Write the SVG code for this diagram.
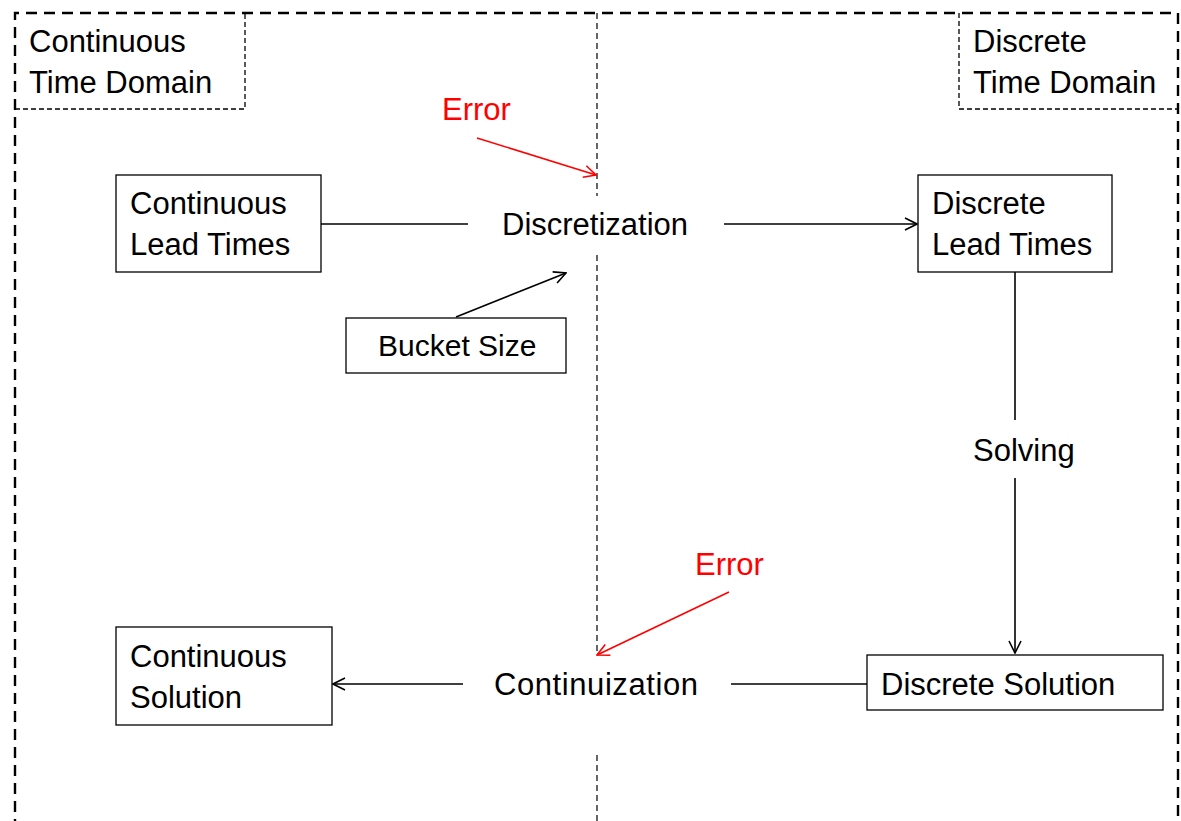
<svg xmlns="http://www.w3.org/2000/svg" width="1181" height="821" viewBox="0 0 1181 821">
<style>
text{font-family:"Liberation Sans",Arial,sans-serif;font-size:31px;fill:#000}
.red{fill:#ff0000}
.box{fill:#fff;stroke:#000;stroke-width:1.3}
.lbl{fill:none;stroke:#000;stroke-width:1.3;stroke-dasharray:5 3}
.outer{fill:none;stroke:#000;stroke-width:2.4;stroke-dasharray:11 7}
.mid{fill:none;stroke:#000;stroke-width:1.2;stroke-dasharray:6 4}
.ln{fill:none;stroke:#000;stroke-width:1.6}
.rln{fill:none;stroke:#ff0000;stroke-width:1.6}
</style>
<defs>
<marker id="ah" viewBox="0 0 14 14" refX="13" refY="7" markerWidth="14" markerHeight="14" markerUnits="userSpaceOnUse" orient="auto">
<path d="M1,1 L13,7 L1,13" fill="none" stroke="#000" stroke-width="1.6"/>
</marker>
<marker id="ahr" viewBox="0 0 14 14" refX="13" refY="7" markerWidth="14" markerHeight="14" markerUnits="userSpaceOnUse" orient="auto">
<path d="M1,1 L13,7 L1,13" fill="none" stroke="#ff0000" stroke-width="1.6"/>
</marker>
</defs>
<rect width="1181" height="821" fill="#fff"/>
<g id="domains">
<path class="outer" d="M15,830 L15,13 L1178,13 L1178,830"/>
<path class="mid" d="M597,13 L597,196"/>
<path class="mid" d="M597,255 L597,653"/>
<path class="mid" d="M597,755 L597,821"/>
</g>
<g id="continuous-domain-label">
<path class="lbl" d="M15,109 L245,109 L245,13"/>
<text x="29" y="52">Continuous</text>
<text x="29" y="93">Time Domain</text>
</g>
<g id="discrete-domain-label">
<path class="lbl" d="M959,13 L959,109 L1178,109"/>
<text x="973" y="52">Discrete</text>
<text x="973" y="93">Time Domain</text>
</g>
<g id="connectors">
<line class="ln" x1="321" y1="224" x2="468" y2="224"/>
<line class="ln" x1="724" y1="224" x2="917" y2="224" marker-end="url(#ah)"/>
<line class="ln" x1="456" y1="317" x2="566" y2="273" marker-end="url(#ah)"/>
<line class="ln" x1="1015" y1="272" x2="1015" y2="420"/>
<line class="ln" x1="1015" y1="478" x2="1015" y2="653" marker-end="url(#ah)"/>
<line class="ln" x1="867" y1="684" x2="731" y2="684"/>
<line class="ln" x1="463" y1="684" x2="333" y2="684" marker-end="url(#ah)"/>
<line class="rln" x1="477" y1="138" x2="596" y2="175" marker-end="url(#ahr)"/>
<line class="rln" x1="729" y1="592" x2="597" y2="655" marker-end="url(#ahr)"/>
</g>
<g id="continuous-lead-times">
<rect class="box" x="116" y="175" width="205" height="97"/>
<text x="130" y="214">Continuous</text>
<text x="130" y="255">Lead Times</text>
</g>
<g id="discretization">
<text x="502" y="235">Discretization</text>
</g>
<g id="discrete-lead-times">
<rect class="box" x="918" y="175" width="194" height="97"/>
<text x="932" y="214">Discrete</text>
<text x="932" y="255">Lead Times</text>
</g>
<g id="bucket-size">
<rect class="box" x="346" y="318" width="220" height="55"/>
<text x="378" y="356" style="font-size:30px">Bucket Size</text>
</g>
<g id="solving">
<text x="973" y="461">Solving</text>
</g>
<g id="discrete-solution">
<rect class="box" x="867" y="655" width="296" height="55"/>
<text x="881" y="695">Discrete Solution</text>
</g>
<g id="continuization">
<text x="494" y="695" textLength="204">Continuization</text>
</g>
<g id="continuous-solution">
<rect class="box" x="116" y="627" width="216" height="98"/>
<text x="130" y="667">Continuous</text>
<text x="130" y="708">Solution</text>
</g>
<g id="error-1">
<text class="red" x="442" y="120">Error</text>
</g>
<g id="error-2">
<text class="red" x="695" y="575">Error</text>
</g>
</svg>
